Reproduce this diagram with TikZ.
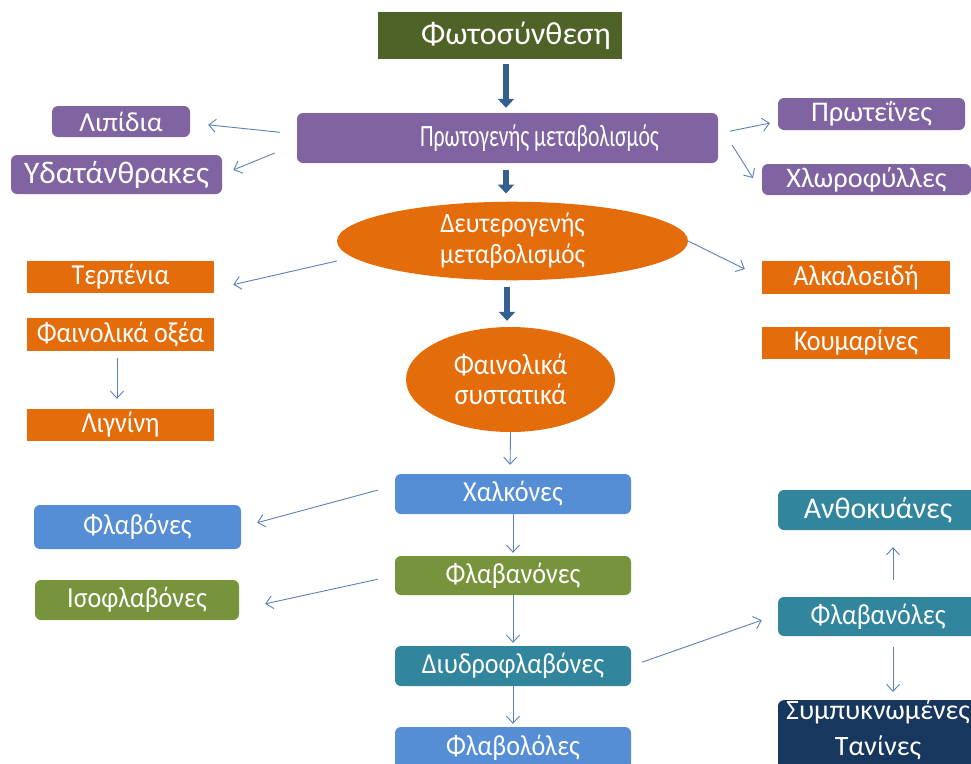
\documentclass[tikz,border=0pt]{standalone}
\usepackage{fontspec}
\setmainfont{Carlito}
\newfontfamily\condfont{Carlito}[FakeStretch=0.9]
\newfontfamily\narrowfont{Carlito}[FakeStretch=0.7]
\usetikzlibrary{arrows.meta,shapes.geometric}
\definecolor{olive}{HTML}{4F6228}
\definecolor{violet}{HTML}{8064A2}
\definecolor{orange}{HTML}{E46C0A}
\definecolor{blue}{HTML}{558ED5}
\definecolor{green}{HTML}{77933C}
\definecolor{teal}{HTML}{31859C}
\definecolor{navy}{HTML}{17375E}
\definecolor{thinarr}{HTML}{5A82B8}
\definecolor{thickarr}{HTML}{34608F}

\tikzset{
  box/.style={text=white, inner sep=0pt, align=center,
    font=\condfont\fontsize{29}{31}\selectfont},
  rbox/.style={box, rounded corners=6pt},
  big/.style={font=\fontsize{#1}{#1}\selectfont},
  arr/.style={draw=thinarr, line width=0.9pt,
    -{Straight Barb[length=7pt,width=13pt]}},
  bigarr/.style={draw=thickarr, line width=6pt,
    -{Triangle[length=9pt,width=16pt]}}
}

\begin{document}
\begin{tikzpicture}[x=1pt,y=-1pt]
      \fill[white] (0,0) rectangle (971,763);
      \useasboundingbox (0,0) rectangle (971,763);
      % Define nodes
      \node[box, big=32, fill=olive, minimum width=244, minimum height=47] (photo) at (500,35.5) {\hspace*{32pt}Φωτοσύνθεση};
      \node[rbox, font=\narrowfont\fontsize{31}{31}\selectfont, fill=violet, minimum width=421, minimum height=50] (prim) at (507.5,138) {\hspace*{64pt}Πρωτογενής μεταβολισμός};
      \node[rbox, big=27.5, fill=violet, minimum width=138, minimum height=31] (lipid) at (121,121.5) {Λιπίδια};
      \node[rbox, big=31.4, fill=violet, minimum width=211, minimum height=39] (carb) at (116.5,174.5) {Υδατάνθρακες};
      \node[rbox, big=28.5, fill=violet, minimum width=187, minimum height=32] (prot) at (871.5,114) {Πρωτεΐνες};
      \node[rbox, big=28.3, fill=violet, minimum width=209, minimum height=31] (chlor) at (866.5,179.5) {Χλωροφύλλες};
      \node[box, ellipse, font=\condfont\fontsize{28}{31}\selectfont, fill=orange, minimum width=351, minimum height=72] (sec) at (512.5,241) {Δευτερογενής\\μεταβολισμός};
      \node[box, ellipse, font=\condfont\fontsize{29.5}{30}\selectfont, fill=orange, minimum width=209, minimum height=105] (phen) at (510.5,379.5) {Φαινολικά\\συστατικά};
      \node[box, fill=orange, minimum width=187, minimum height=32] (terp) at (120.5,277) {Τερπένια};
      \node[box, fill=orange, minimum width=187, minimum height=33] (acid) at (120.5,334.5) {Φαινολικά οξέα};
      \node[box, fill=orange, minimum width=187, minimum height=32] (lign) at (120.5,425) {Λιγνίνη};
      \node[box, fill=orange, minimum width=188, minimum height=33] (alk) at (856,277.5) {Αλκαλοειδή};
      \node[box, fill=orange, minimum width=188, minimum height=32] (coum) at (856,343) {Κουμαρίνες};
      \node[rbox, fill=blue, minimum width=236, minimum height=40] (chalc) at (513,494) {Χαλκόνες};
      \node[rbox, fill=blue, minimum width=207, minimum height=44] (flavone) at (137.5,527) {Φλαβόνες};
      \node[rbox, fill=green, minimum width=236, minimum height=39] (flavanone) at (513,575.5) {Φλαβανόνες};
      \node[rbox, fill=green, minimum width=204, minimum height=40] (isofl) at (137,600) {Ισοφλαβόνες};
      \node[rbox, fill=teal, minimum width=236, minimum height=40] (dihydro) at (513,666) {Διυδροφλαβόνες};
      \node[rbox, fill=blue, minimum width=236, minimum height=42] (flavonol) at (513,748) {Φλαβολόλες};
      \node[rbox, big=30, fill=teal, minimum width=200, minimum height=40] (antho) at (878,510) {Ανθοκυάνες};
      \node[rbox, fill=teal, minimum width=200, minimum height=39] (flavanol) at (878,616.5) {Φλαβανόλες};
      \node[rbox, font=\fontsize{28}{36}\selectfont, text depth=17pt, fill=navy, minimum width=200, minimum height=67] (tannin) at (878,736.5) {Συμπυκνωμένες\\Τανίνες};
      % Connect the nodes
      \draw[bigarr, shorten <=5pt, shorten >=5pt] ([xshift=6pt]photo.south) -- ([xshift=-1.5pt]prim.north);
      \draw[bigarr, shorten <=7pt, shorten >=8pt] ([xshift=-1.5pt]prim.south) -- ([xshift=-6.5pt]sec.north);
      \draw[bigarr, shorten <=7pt, shorten >=6pt] ([xshift=-5.5pt]sec.south) -- ([xshift=-3.5pt]phen.north);
      \draw[arr, shorten <=17pt, shorten >=18pt] ([yshift=4pt]prim.west) -- ([yshift=-1.5pt]lipid.east);
      \draw[arr, shorten <=24pt, shorten >=12pt] ([yshift=-6pt]prim.west) -- (carb.east);
      \draw[arr, shorten <=12pt, shorten >=8pt] ([yshift=4.5pt]prim.east) -- ([yshift=-7.5pt]prot.west);
      \draw[arr, shorten <=26pt, shorten >=16.5pt] ([yshift=15pt]prim.east) -- ([yshift=-12.5pt]chlor.west);
      \draw[arr, shorten >=19.5pt] ([yshift=-20pt]sec.west) -- ([yshift=-12pt]terp.east);
      \draw[arr, shorten >=19pt] (sec.east) -- (alk.west);
      \draw[arr, shorten <=7pt, shorten >=10pt] ([xshift=-3.5pt]acid.south) -- ([xshift=-3.5pt]lign.north);
      \draw[arr, shorten >=9pt] (phen.south) -- ([xshift=-3pt]chalc.north);
      \draw[arr, shorten <=17.5pt, shorten >=16.5pt] ([yshift=8.5pt]chalc.west) -- (flavone.east);
      \draw[arr, shorten <=17.5pt, shorten >=26.5pt] (flavanone.west) -- ([yshift=-9.5pt]isofl.east);
      \draw[arr, shorten >=3pt] (chalc.south) -- (flavanone.north);
      \draw[arr, shorten >=3pt] (flavanone.south) -- (dihydro.north);
      \draw[arr, shorten >=3pt] (dihydro.south) -- (flavonol.north);
      \draw[arr, shorten <=11.5pt, shorten >=17pt] (dihydro.east) -- ([yshift=2pt]flavanol.west);
      \draw[arr, shorten <=17pt, shorten >=17pt] ([xshift=15pt]flavanol.north) -- ([xshift=15pt]antho.south);
      \draw[arr, shorten <=11pt, shorten >=8pt] ([xshift=15pt]flavanol.south) -- ([xshift=15pt]tannin.north);
    \end{tikzpicture}
\end{document}
